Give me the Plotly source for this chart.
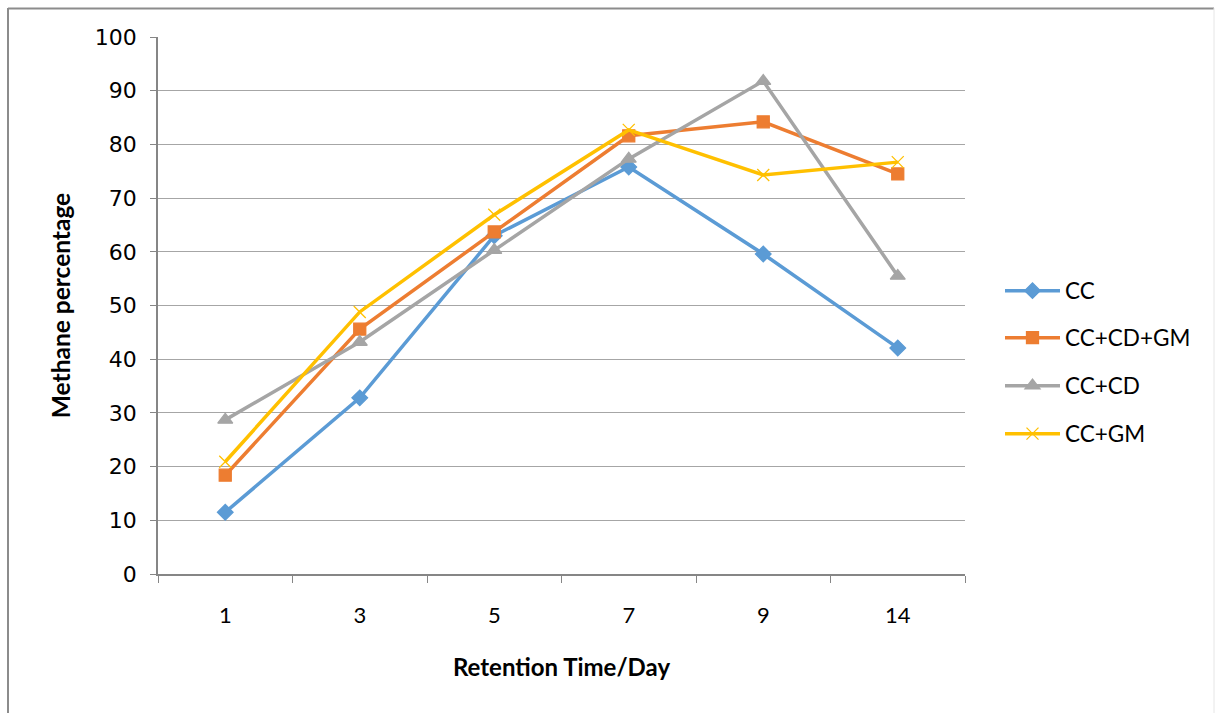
import plotly.graph_objects as go

# Retention time categories (days) and methane percentage per treatment
days = ["1", "3", "5", "7", "9", "14"]
cc = [11.5, 32.8, 63.0, 75.8, 59.6, 42.1]
cc_cd_gm = [18.4, 45.6, 63.7, 81.6, 84.2, 74.5]
cc_cd = [28.7, 43.2, 60.3, 77.3, 91.8, 55.5]
cc_gm = [20.9, 48.8, 66.9, 82.7, 74.3, 76.7]

series = [
    ("CC", cc, "#5B9BD5", "diamond", 12),
    ("CC+CD+GM", cc_cd_gm, "#ED7D31", "square", 12),
    ("CC+CD", cc_cd, "#A5A5A5", "triangle-up", 13),
    ("CC+GM", cc_gm, "#FFC000", "x-thin-open", 12),
]

W, H = 1215, 713
L, R, T, B = 158, 965, 37, 574

fig = go.Figure()
legend_names = ["legend", "legend2", "legend3", "legend4"]
legend_y = [291, 338, 386, 434]
for (name, vals, color, sym, size), lg in zip(series, legend_names):
    fig.add_trace(go.Scatter(
        x=days, y=vals, name=name, mode="lines+markers",
        line=dict(color=color, width=3.5),
        marker=dict(symbol=sym, size=size, color=color,
                    line=dict(color=color, width=1.3)),
        legend=lg,
    ))

layout_legends = {}
for lg, ypx in zip(legend_names, legend_y):
    layout_legends[lg] = dict(
        x=(1000 - L) / (R - L), xanchor="left",
        y=(B - ypx) / (B - T), yanchor="middle",
        font=dict(family="Lato, Open Sans, sans-serif", size=22.5, color="#000000"),
        itemwidth=55, bgcolor="rgba(0,0,0,0)", borderwidth=0,
        tracegroupgap=0,
    )

fig.update_layout(
    width=W, height=H,
    margin=dict(l=L, r=W - R, t=T, b=H - B),
    paper_bgcolor="white", plot_bgcolor="white",
    font=dict(family="Lato, Open Sans, sans-serif", color="#000000"),
    showlegend=True,
    **layout_legends,
)

fig.update_xaxes(
    type="category", range=[-0.5, 5.5],
    tickson="boundaries", ticks="outside", ticklen=7, tickwidth=1,
    tickcolor="#868686", showline=True, linecolor="#868686", linewidth=1.5,
    showgrid=False, tickfont=dict(size=22), ticklabelstandoff=21,
    title=dict(text="<b>Retention Time/Day</b>", font=dict(size=24), standoff=32),
)
fig.update_yaxes(
    range=[0, 100], dtick=10, ticks="outside", ticklen=6, tickwidth=1,
    tickcolor="#868686", showline=True, linecolor="#868686", linewidth=1.5,
    showgrid=True, gridcolor="#A6A6A6", gridwidth=1.3,
    tickfont=dict(family="DejaVu Sans, Verdana, sans-serif", size=22), ticklabelstandoff=9,
    zeroline=False,
    title=dict(text="<b>Methane percentage</b>", font=dict(size=24.5), standoff=17),
)

# Outer chart frame: left and top edges, faint right edge
def px_x(v):
    return (v - L) / (R - L)

def px_y(v):
    return (B - v) / (B - T)

fig.add_shape(type="line", xref="paper", yref="paper",
              x0=px_x(8), x1=px_x(8), y0=px_y(8), y1=px_y(720),
              line=dict(color="#8C8C8C", width=2))
fig.add_shape(type="line", xref="paper", yref="paper",
              x0=px_x(8), x1=px_x(1214), y0=px_y(8.5), y1=px_y(8.5),
              line=dict(color="#8C8C8C", width=2))
fig.add_shape(type="line", xref="paper", yref="paper",
              x0=px_x(1214), x1=px_x(1214), y0=px_y(8), y1=px_y(720),
              line=dict(color="#E6E6E6", width=1))

fig.write_html("out.html")
